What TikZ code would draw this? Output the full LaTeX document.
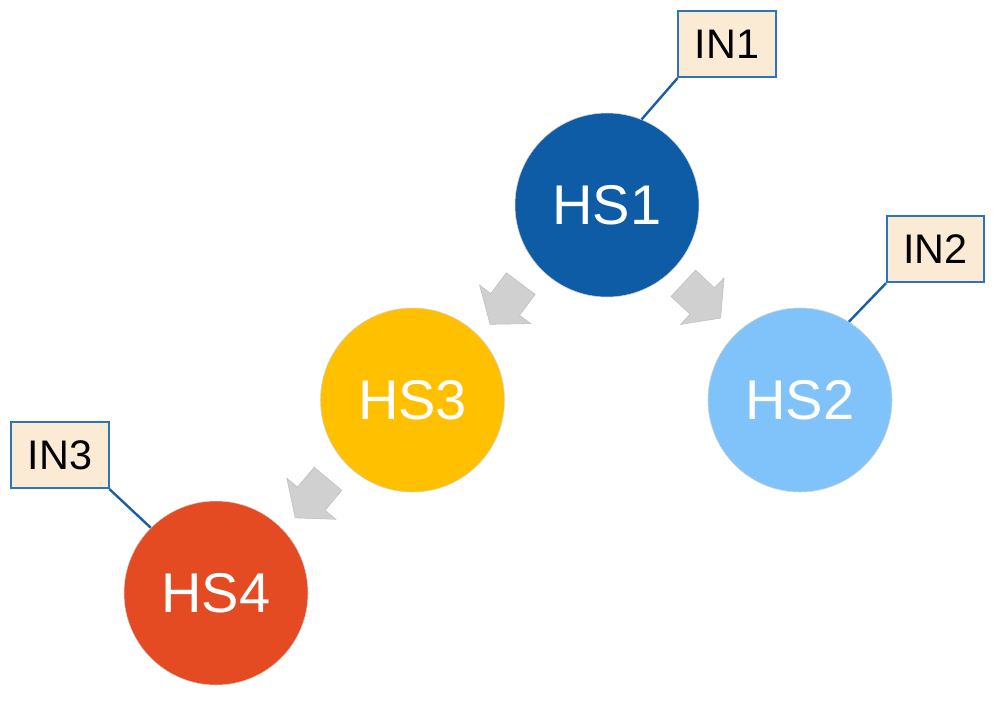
\documentclass[tikz,border=0pt]{standalone}
\usepackage{fontspec}
\setmainfont{Liberation Sans}
\definecolor{cHSa}{RGB}{14,92,166}
\definecolor{cHSb}{RGB}{128,195,250}
\definecolor{cHSc}{RGB}{255,192,0}
\definecolor{cHSd}{RGB}{228,75,34}
\definecolor{cBox}{RGB}{251,235,213}
\definecolor{cBoxLine}{RGB}{46,117,182}
\definecolor{cLine}{RGB}{24,94,168}
\definecolor{cArrow}{RGB}{208,208,208}
\definecolor{cArrowLine}{RGB}{190,190,190}
\tikzset{
  hs/.style={circle, minimum size=138pt, inner sep=0pt, draw=black!18, line width=0.4pt,
    text=white, font=\fontsize{42}{48}\selectfont},
  inbox/.style={rectangle, fill=cBox, draw=cBoxLine, line width=1.3pt, inner sep=0pt,
    minimum width=73pt, minimum height=50pt, font=\fontsize{31}{36}\selectfont},
  calline/.style={draw=cLine, line width=1.8pt},
  blockarrow/.pic={
    \filldraw[fill=cArrow, draw=cArrowLine, line width=0.4pt]
      (0,-18) -- (26,-18) -- (26,-32) -- (51,0) -- (26,32) -- (26,18) -- (0,18) -- cycle;
  }
}
\begin{document}
\begin{tikzpicture}[x=0.75pt, y=-0.75pt]
\useasboundingbox (0,0) rectangle (1000,711);
\fill[white] (0,0) rectangle (1000,711);
% arrows
\pic[rotate=233] (a1) at (520.8,283.6) {blockarrow};
\pic[rotate=-43] (a2) at (683.3,283.3) {blockarrow};
\pic[rotate=230] (a3) at (328,478.8) {blockarrow};
% circles
\node[hs, fill=cHSa] (hs1) at (607,205) {HS1};
\node[hs, fill=cHSb] (hs2) at (800,400) {HS2};
\node[hs, fill=cHSc] (hs3) at (412.5,400) {HS3};
\node[hs, fill=cHSd] (hs4) at (216,593) {HS4};
% boxes
\node[inbox] (in1) at (727,44) {IN1};
\node[inbox] (in2) at (935.5,249) {IN2};
\node[inbox] (in3) at (60,455) {IN3};
% callout lines
\draw[calline] (in1.south west) -- (hs1.68.8);
\draw[calline] (in2.south west) -- (hs2.58.5);
\draw[calline] (in3.south east) -- (hs4.135.5);
\end{tikzpicture}
\end{document}
